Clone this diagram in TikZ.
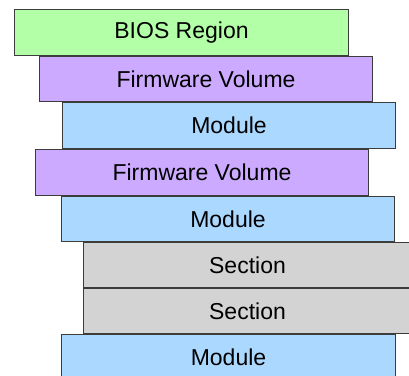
\documentclass[tikz,border=0pt]{standalone}
\usepackage{fontspec}
\setmainfont{Liberation Sans}
\definecolor{cgreen}{RGB}{179,255,168}
\definecolor{cpurple}{RGB}{204,170,255}
\definecolor{cblue}{RGB}{170,216,255}
\definecolor{cgray}{RGB}{211,211,211}
\definecolor{cline}{RGB}{60,60,60}
\tikzset{
  layer/.style={draw=cline, line width=1pt, inner sep=0pt, anchor=north west,
    font=\fontsize{23}{26}\selectfont, text=black},
}
\begin{document}
\begin{tikzpicture}[x=1pt,y=1pt]
\useasboundingbox (0,0) rectangle (409,375);
\clip (0,0) rectangle (409,375);
\node[layer, fill=cgreen, minimum width=334pt, minimum height=46pt] (bios) at (14,366) {BIOS Region};
\node[layer, fill=cpurple, minimum width=333pt, minimum height=45pt] (fv1) at (39,319) {Firmware Volume};
\node[layer, fill=cblue, minimum width=333pt, minimum height=46pt] (mod1) at (62,273) {Module};
\node[layer, fill=cpurple, minimum width=333pt, minimum height=46pt] (fv2) at (35,226) {Firmware Volume};
\node[layer, fill=cblue, minimum width=333pt, minimum height=45pt] (mod2) at (61,179) {Module};
\node[layer, fill=cgray, minimum width=328pt, minimum height=45pt] (sec1) at (83,133) {Section};
\node[layer, fill=cgray, minimum width=328pt, minimum height=45pt] (sec2) at (83,87) {Section};
\node[layer, fill=cblue, minimum width=334pt, minimum height=46pt] (mod3) at (61,41) {Module};
\end{tikzpicture}
\end{document}
